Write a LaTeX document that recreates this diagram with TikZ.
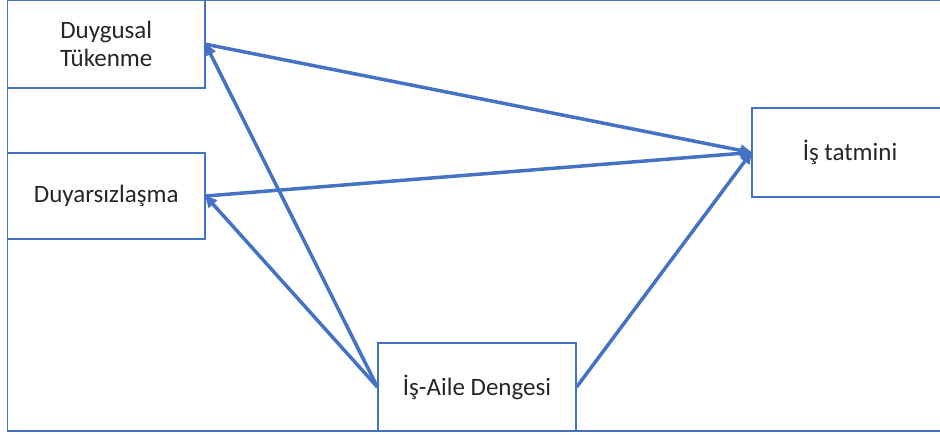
\documentclass[tikz,border=0pt]{standalone}
\usepackage{fontspec}
\setmainfont{Carlito}
\usetikzlibrary{arrows.meta}
\definecolor{boxblue}{RGB}{68,114,196}
\tikzset{
  varbox/.style={draw=boxblue, line width=1.3pt, fill=white, align=center,
    inner sep=0pt, text=black!85, font=\fontsize{25}{28}\selectfont},
  link/.style={draw=boxblue, line width=3.5pt,
    -{Triangle[length=12pt,width=11pt]}, shorten >=-1pt}
}
\begin{document}
\begin{tikzpicture}[x=1pt,y=1pt]
\useasboundingbox (0,0) rectangle (940,434);
\clip (0,0) rectangle (940,434);
% outer frame, open on the right
\draw[boxblue, line width=1.3pt] (945,433.5) -| (7.5,3) -- (945,3);
% variables
\node[varbox, minimum width=197.5pt, minimum height=87.5pt] (dt) at (106.25,389.75) {Duygusal\\Tükenme};
\node[varbox, minimum width=197.5pt, minimum height=86pt] (dy) at (106.25,238) {Duyarsızlaşma};
\node[varbox, minimum width=196pt, minimum height=89pt] (it) at (850,281.5) {İş tatmini};
\node[varbox, minimum width=198pt, minimum height=88pt] (ia) at (477,47) {İş-Aile Dengesi};
% paths
\draw[link] (dt.east) -- (it.west);
\draw[link] (dy.east) -- (it.west);
\draw[link] (ia.west) -- (dt.east);
\draw[link] (ia.west) -- (dy.east);
\draw[link] (ia.east) -- (it.west);
\end{tikzpicture}
\end{document}
